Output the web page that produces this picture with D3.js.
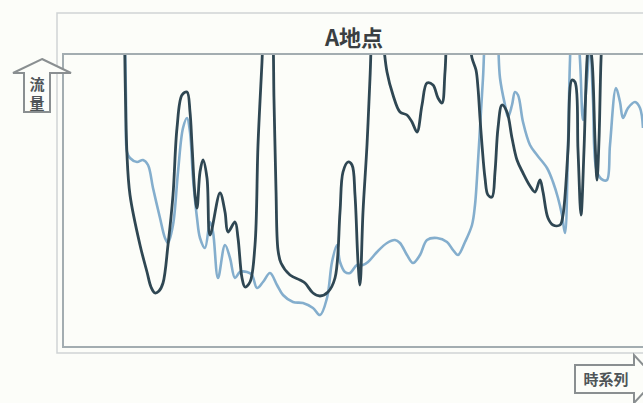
<!DOCTYPE html>
<html><head><meta charset="utf-8">
<script src="https://cdn.jsdelivr.net/npm/d3@7"></script>
<style>html,body{margin:0;padding:0;background:#fcfdf9;overflow:hidden}</style>
</head><body>
<svg id="c" width="643" height="403"></svg>
<script>
const title = "A地点";
const yLabel = ["流","量"];
const xLabel = "時系列";

// time index (arbitrary units) and flow values (arbitrary units; values above 293 run off the top)
const darkT = [61,64,67,77,84,88,92,96,100,105,110,114,119,124,127,129,132,134,137,140,144,147,157,162,165,172,175,179,182,187,192,195,199,201,205,209,211,213,215,218,227,237,242,250,257,265,272,277,280,285,289,292,295,297,300,304,307,310,315,320,324,330,337,344,349,354,359,364,370,375,379,382,385,395,405,409,413,415,417,419,422,425,429,432,435,439,444,449,454,460,467,472,477,480,485,490,497,500,505,509,512,515,518,521,524,526,529,532,534,536,538,540,543];
const darkV = [367,192,152,102,75,60,54,56,64,102,152,219,252,255,235,202,152,139,175,187,169,112,154,135,115,125,109,69,60,65,102,202,285,327,347,327,247,157,97,84,72,67,64,54,51,55,69,135,175,185,182,152,85,62,135,202,269,327,347,307,275,252,235,232,225,215,242,264,262,249,244,275,317,347,317,289,277,259,229,202,169,152,150,175,219,242,235,209,187,174,161,155,167,155,129,122,122,132,197,267,265,197,132,197,287,307,287,207,167,207,287,327,357];

const lightT = [61,63,64,67,74,80,85,90,97,102,105,110,115,120,124,127,130,134,137,142,147,150,155,162,167,172,177,184,189,194,200,207,214,220,230,240,250,257,264,269,274,277,282,287,294,300,305,314,324,332,337,344,350,357,364,374,384,390,395,402,409,412,414,417,420,423,429,434,437,442,445,449,452,455,460,467,474,484,490,495,499,502,505,507,509,513,517,520,524,527,530,534,540,544,547,553,557,560,565,572,577,580];
const lightV = [367,247,195,189,185,187,182,159,129,109,104,122,175,219,229,215,169,129,109,99,125,115,69,102,89,69,75,75,72,59,65,74,62,52,45,44,39,32,49,85,102,85,75,74,82,82,85,95,104,107,104,92,84,92,107,109,105,97,92,105,122,142,169,219,269,317,337,317,269,242,230,242,255,252,225,202,192,179,165,149,132,114,202,287,327,337,287,227,267,307,247,175,167,167,202,259,245,229,239,245,239,219];

const W = 643, H = 403;
const plot = {left: 63, top: 54, right: 643, bottom: 347};
const svg = d3.select("#c");

const x = d3.scaleLinear().domain([0, 580]).range([plot.left, plot.right]);
const y = d3.scaleLinear().domain([0, 293]).range([plot.bottom, plot.top]);

svg.append("rect").attr("width", W).attr("height", H).attr("fill", "#fcfdf9");

// outer frame
svg.append("path")
  .attr("d", `M${W+5},13 H57 V353 H${W+5}`)
  .attr("fill", "none").attr("stroke", "#cfd4d5").attr("stroke-width", 1.5);

// title
svg.append("text").attr("x", 354).attr("y", 46).attr("text-anchor", "middle")
  .attr("font-family", "'Noto Sans CJK JP', sans-serif").attr("font-weight", "bold")
  .attr("font-size", 22).attr("fill", "#3a3f42").text(title);

svg.append("defs").append("clipPath").attr("id", "clip")
  .append("rect").attr("x", plot.left).attr("y", plot.top)
  .attr("width", plot.right - plot.left).attr("height", plot.bottom - plot.top);

const line = d3.line().x(d => x(d[0])).y(d => y(d[1])).curve(d3.curveCatmullRom.alpha(0.5));

const g = svg.append("g").attr("clip-path", "url(#clip)");
g.append("path").datum(d3.zip(lightT, lightV)).attr("d", line)
  .attr("fill", "none").attr("stroke", "#84aecd").attr("stroke-width", 2.6)
  .attr("stroke-linejoin", "round");
g.append("path").datum(d3.zip(darkT, darkV)).attr("d", line)
  .attr("fill", "none").attr("stroke", "#2f4753").attr("stroke-width", 2.8)
  .attr("stroke-linejoin", "round");

// inner frame
svg.append("path")
  .attr("d", `M${W+5},${plot.top} H${plot.left} V${plot.bottom} H${W+5}`)
  .attr("fill", "none").attr("stroke", "#a3adb1").attr("stroke-width", 2);

// y arrow
svg.append("path")
  .attr("d", "M42,59 L71,73 L50,73 L50,112 L24,112 L24,73 L13,73 Z")
  .attr("fill", "#fcfdf9").attr("stroke", "#8a8f91").attr("stroke-width", 2);
yLabel.forEach((t, i) => {
  svg.append("text").attr("x", 37).attr("y", 90 + i * 19).attr("text-anchor", "middle")
    .attr("font-family", "'Noto Sans CJK JP', sans-serif").attr("font-weight", "bold")
    .attr("font-size", 15).attr("fill", "#4f5558").text(t);
});

// x arrow
svg.append("path")
  .attr("d", "M575,365 L634,365 L634,355 L656,379 L634,403 L634,393 L575,393 Z")
  .attr("fill", "#fcfdf9").attr("stroke", "#8a8f91").attr("stroke-width", 2);
svg.append("text").attr("x", 606).attr("y", 385).attr("text-anchor", "middle")
  .attr("font-family", "'Noto Sans CJK JP', sans-serif").attr("font-weight", "bold")
  .attr("font-size", 15).attr("fill", "#4f5558").text(xLabel);
</script>
</body></html>
